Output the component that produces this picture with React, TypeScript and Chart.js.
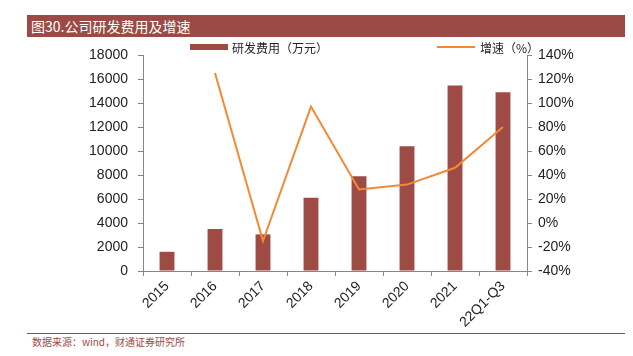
import React, { useEffect, useRef } from "react";
import { Chart, registerables } from "chart.js";

Chart.register(...registerables);

const categories = ["2015", "2016", "2017", "2018", "2019", "2020", "2021", "22Q1-Q3"];
const rdExpense = [1600, 3500, 3050, 6100, 7900, 10400, 15450, 14900];
const growthRate = [null, 125, -15, 97, 28, 32, 46, 80];
const leftTicks = { min: 0, max: 18000, step: 2000 };
const rightTicks = { min: -40, max: 140, step: 20 };

const BAR_COLOR = "#9E4B45";
const LINE_COLOR = "#F28A33";
const AXIS_COLOR = "#868686";
const TEXT_COLOR = "#222";

export default function App() {
  const ref = useRef<HTMLCanvasElement>(null);
  useEffect(() => {
    const canvas = ref.current!;
    const tickFont = { family: "Liberation Sans, Arial", size: 14 };
    const chart = new Chart(canvas, {
      data: {
        labels: categories,
        datasets: [
          {
            type: "line",
            label: "增速（%）",
            data: growthRate,
            yAxisID: "y1",
            borderColor: LINE_COLOR,
            backgroundColor: LINE_COLOR,
            borderWidth: 2,
            pointRadius: 0,
            tension: 0,
            order: 0,
          },
          {
            type: "bar",
            label: "研发费用（万元）",
            data: rdExpense,
            yAxisID: "y",
            backgroundColor: BAR_COLOR,
            barPercentage: 0.31,
            categoryPercentage: 1,
            order: 1,
          },
        ],
      } as any,
      options: {
        animation: false,
        responsive: false,
        maintainAspectRatio: false,
        layout: { padding: { left: 0, right: 0, top: 55, bottom: 0 } },
        plugins: { legend: { display: false }, tooltip: { enabled: false } },
        scales: {
          x: {
            offset: true,
            grid: {
              offset: true,
              drawOnChartArea: false,
              drawTicks: true,
              tickLength: 5,
              color: AXIS_COLOR,
            },
            border: { display: true, color: AXIS_COLOR, width: 1 },
            ticks: {
              minRotation: 45,
              maxRotation: 45,
              color: TEXT_COLOR,
              padding: 2,
              font: tickFont,
            },
            afterFit: (s: any) => {
              s.height = 85;
            },
          },
          y: {
            position: "left",
            min: leftTicks.min,
            max: leftTicks.max,
            ticks: {
              stepSize: leftTicks.step,
              color: TEXT_COLOR,
              padding: 10,
              font: tickFont,
              callback: (v: any) => String(v),
            },
            grid: {
              drawOnChartArea: false,
              drawTicks: true,
              tickLength: 5,
              color: AXIS_COLOR,
            },
            border: { display: true, color: AXIS_COLOR, width: 1 },
            afterFit: (s: any) => {
              s.width = 143;
            },
          },
          y1: {
            position: "right",
            min: rightTicks.min,
            max: rightTicks.max,
            ticks: {
              stepSize: rightTicks.step,
              color: TEXT_COLOR,
              padding: 6,
              font: tickFont,
              callback: (v: any) => `${v}%`,
            },
            grid: {
              drawOnChartArea: false,
              drawTicks: true,
              tickLength: 5,
              color: AXIS_COLOR,
            },
            border: { display: true, color: AXIS_COLOR, width: 1 },
            afterFit: (s: any) => {
              s.width = 106;
            },
          },
        },
      },
    });
    return () => chart.destroy();
  }, []);

  const cjk = '"Noto Sans CJK SC", "Noto Sans", sans-serif';
  return (
    <div
      style={{
        position: "fixed",
        left: 0,
        top: 0,
        width: 633,
        height: 356,
        background: "#fff",
        overflow: "hidden",
      }}
    >
      <div
        style={{
          position: "absolute",
          left: 27,
          top: 15,
          width: 598,
          height: 22,
          background: "#9C4A45",
          color: "#fff",
          fontFamily: cjk,
          fontSize: 14,
          lineHeight: "22px",
          paddingLeft: 4,
          boxSizing: "border-box",
        }}
      >
        图30.公司研发费用及增速
      </div>
      <div
        style={{
          position: "absolute",
          left: 27,
          top: 333,
          width: 598,
          height: 1,
          background: "#9C4A45",
        }}
      />
      <div
        style={{
          position: "absolute",
          left: 32,
          top: 335,
          color: "#9C4A45",
          fontFamily: cjk,
          fontSize: 10,
          lineHeight: "14px",
        }}
      >
        数据来源：wind，财通证券研究所
      </div>
      <canvas
        ref={ref}
        width={633}
        height={356}
        style={{ position: "absolute", left: 0, top: 0, width: 633, height: 356 }}
      />
      <div
        style={{
          position: "absolute",
          left: 190,
          top: 40,
          height: 14,
          display: "flex",
          alignItems: "center",
          fontFamily: cjk,
          fontSize: 12,
          color: TEXT_COLOR,
        }}
      >
        <span style={{ display: "inline-block", width: 38, height: 6, background: BAR_COLOR, marginRight: 4 }} />
        <span>研发费用（万元）</span>
      </div>
      <div
        style={{
          position: "absolute",
          left: 437,
          top: 40,
          height: 14,
          display: "flex",
          alignItems: "center",
          fontFamily: cjk,
          fontSize: 12,
          color: TEXT_COLOR,
        }}
      >
        <span style={{ display: "inline-block", width: 38, height: 2, background: LINE_COLOR, marginRight: 5 }} />
        <span>增速（%）</span>
      </div>
    </div>
  );
}
